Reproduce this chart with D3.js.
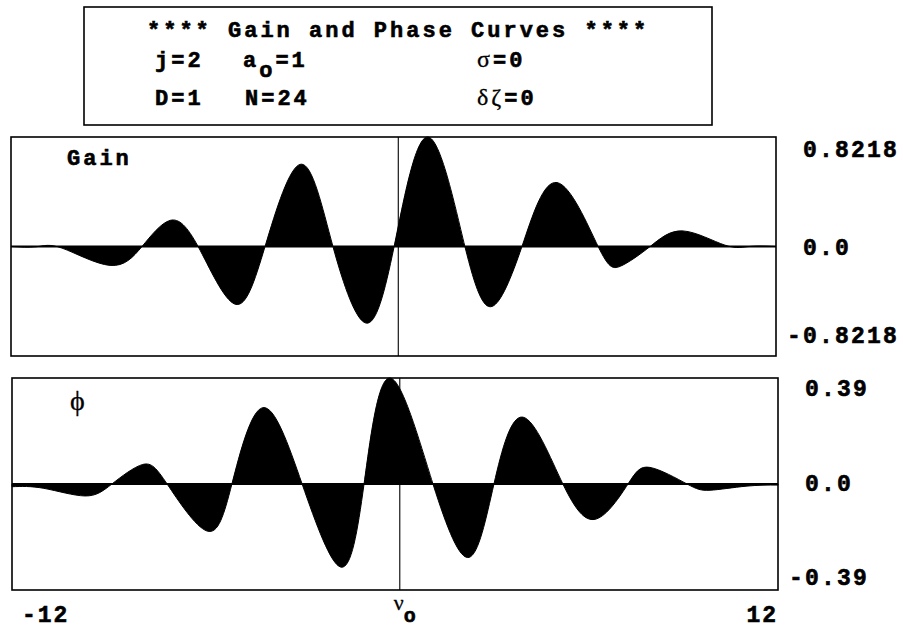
<!DOCTYPE html>
<html>
<head>
<meta charset="utf-8">
<script src="https://cdn.jsdelivr.net/npm/d3@7"></script>
<style>
  html, body { margin: 0; padding: 0; background: #fff; }
  svg { display: block; }
  .mono { font-family: "Liberation Mono", "Courier New", monospace; font-weight: bold; fill: #000; stroke: #000; stroke-width: 0.6px; }
  .greek { font-family: "Liberation Serif", "DejaVu Serif", serif; font-weight: normal; fill: #000; stroke: #000; stroke-width: 0.3px; }
</style>
</head>
<body>
<svg id="chart" width="903" height="631"></svg>
<script>
// ---- data ----
const xDomain = [-12, 12];
const nu0 = 0.15;

const gainX = [-12, -11.2, -10.4, -8.89, -7.89, -7.01, -6.13, -4.97, -4.03, -2.90, -1.90, -0.86, 0.02, 1.08, 2.24, 3.09, 4.03, 5.13, 6.42, 7.11, 8.05, 9.08, 10.4, 11.2, 12];
const gainY = [0, -0.002, -0.012, -0.142, 0, 0.196, 0, -0.433, 0, 0.618, 0, -0.575, 0, 0.8218, 0, -0.45, 0, 0.48, 0, -0.149, 0, 0.117, 0.01, 0.001, 0];

const phaseX = [-12, -11.0, -9.71, -8.87, -7.90, -7.14, -5.89, -5.11, -4.14, -2.91, -1.69, -0.97, -0.16, 1.19, 2.32, 3.10, 4.01, 5.26, 6.30, 7.30, 7.99, 9.15, 9.87, 11.0, 12];
const phaseY = [-0.01, -0.016, -0.044, 0, 0.072, 0, -0.173, 0, 0.281, 0, -0.306, 0, 0.39, 0, -0.27, 0, 0.246, 0, -0.129, 0, 0.061, 0, -0.023, -0.008, -0.004];

const gainTicks = [0.8218, 0, -0.8218];
const gainTickLabels = ["0.8218", "0.0", "-0.8218"];
const phaseTicks = [0.39, 0, -0.39];
const phaseTickLabels = ["0.39", "0.0", "-0.39"];
const xTicks = [-12, 12];
const xTickLabels = ["-12", "12"];

// ---- drawing ----
const svg = d3.select("#chart");

// header box
const header = svg.append("g");
header.append("rect").attr("x", 84).attr("y", 7).attr("width", 628).attr("height", 118)
  .attr("fill", "none").attr("stroke", "#000").attr("stroke-width", 1.6);

const hStyle = (t) => t.attr("class", "mono").style("font-size", "22px").style("letter-spacing", "3px");
hStyle(header.append("text").attr("x", 147).attr("y", 37)).text("**** Gain and Phase Curves ****");
hStyle(header.append("text").attr("x", 155).attr("y", 67)).text("j=2");
{
  const t = hStyle(header.append("text").attr("x", 243).attr("y", 67));
  t.append("tspan").text("a");
  t.append("tspan").attr("dy", 10).text("o");
  t.append("tspan").attr("dy", -10).text("=1");
}
{
  const t = hStyle(header.append("text").attr("x", 477).attr("y", 67));
  t.append("tspan").attr("class", "greek").style("font-size", "24px").text("σ");
  t.append("tspan").text("=0");
}
hStyle(header.append("text").attr("x", 155).attr("y", 105)).text("D=1");
hStyle(header.append("text").attr("x", 245).attr("y", 105)).text("N=24");
{
  const t = hStyle(header.append("text").attr("x", 477).attr("y", 105));
  t.append("tspan").attr("class", "greek").style("font-size", "24px").text("δζ");
  t.append("tspan").text("=0");
}

function panel(cfg) {
  const g = svg.append("g");
  const x = d3.scaleLinear().domain(xDomain).range([cfg.x0, cfg.x1]);
  const y = d3.scaleLinear().domain([-cfg.max, cfg.max]).range([cfg.y1, cfg.y0]);
  const pts = cfg.xs.map((v, i) => [v, cfg.ys[i]]);

  const area = d3.area().curve(d3.curveNatural)
    .x(d => x(d[0])).y0(y(0)).y1(d => y(d[1]));
  g.append("path").datum(pts).attr("d", area).attr("fill", "#000")
    .attr("stroke", "#000").attr("stroke-width", 1);

  // zero line
  g.append("line").attr("x1", x(xDomain[0])).attr("x2", x(xDomain[1]))
    .attr("y1", y(0)).attr("y2", y(0)).attr("stroke", "#000").attr("stroke-width", 1.8);
  // nu0 line
  g.append("line").attr("x1", x(nu0)).attr("x2", x(nu0))
    .attr("y1", cfg.y0).attr("y2", cfg.y1).attr("stroke", "#000").attr("stroke-width", 1.1);
  // frame
  g.append("rect").attr("x", cfg.x0).attr("y", cfg.y0)
    .attr("width", cfg.x1 - cfg.x0).attr("height", cfg.y1 - cfg.y0)
    .attr("fill", "none").attr("stroke", "#000").attr("stroke-width", 1.6);

  // right tick labels
  cfg.ticks.forEach((v, i) => {
    g.append("text").attr("class", "mono")
      .style("font-size", "23px").style("letter-spacing", "2.2px")
      .attr("x", cfg.x1 + (cfg.labels[i].startsWith("-") ? 11 : 27))
      .attr("y", y(v) + cfg.dy[i])
      .text(cfg.labels[i]);
  });
  // panel label
  const lab = g.append("text").attr("x", cfg.labelX).attr("y", cfg.labelY);
  if (cfg.greek) {
    lab.attr("class", "greek").style("font-size", "28px").text(cfg.title);
  } else {
    lab.attr("class", "mono").style("font-size", "22px").style("letter-spacing", "3px").text(cfg.title);
  }
  return { x, y };
}

panel({ x0: 11, x1: 776, y0: 137, y1: 356, max: 0.8218, xs: gainX, ys: gainY,
  ticks: gainTicks, labels: gainTickLabels, dy: [20, 8, -13],
  title: "Gain", labelX: 67, labelY: 165 });

const bottom = panel({ x0: 12, x1: 778, y0: 378, y1: 590, max: 0.39, xs: phaseX, ys: phaseY,
  ticks: phaseTicks, labels: phaseTickLabels, dy: [18, 7, -5],
  title: "ϕ", labelX: 70, labelY: 410, greek: true });

// x labels
xTicks.forEach((v, i) => {
  svg.append("text").attr("class", "mono")
    .style("font-size", "23px").style("letter-spacing", "2px")
    .attr("x", bottom.x(v) + (i === 0 ? 10 : 0))
    .attr("y", 622)
    .attr("text-anchor", i === 0 ? "start" : "end")
    .text(xTickLabels[i]);
});
{
  const t = svg.append("text").attr("x", bottom.x(nu0) - 6).attr("y", 610)
    .attr("class", "greek").style("font-size", "22px");
  t.append("tspan").text("ν");
  t.append("tspan").attr("class", "mono").attr("dy", 12).style("font-size", "20px").text("o");
}
</script>
</body>
</html>
